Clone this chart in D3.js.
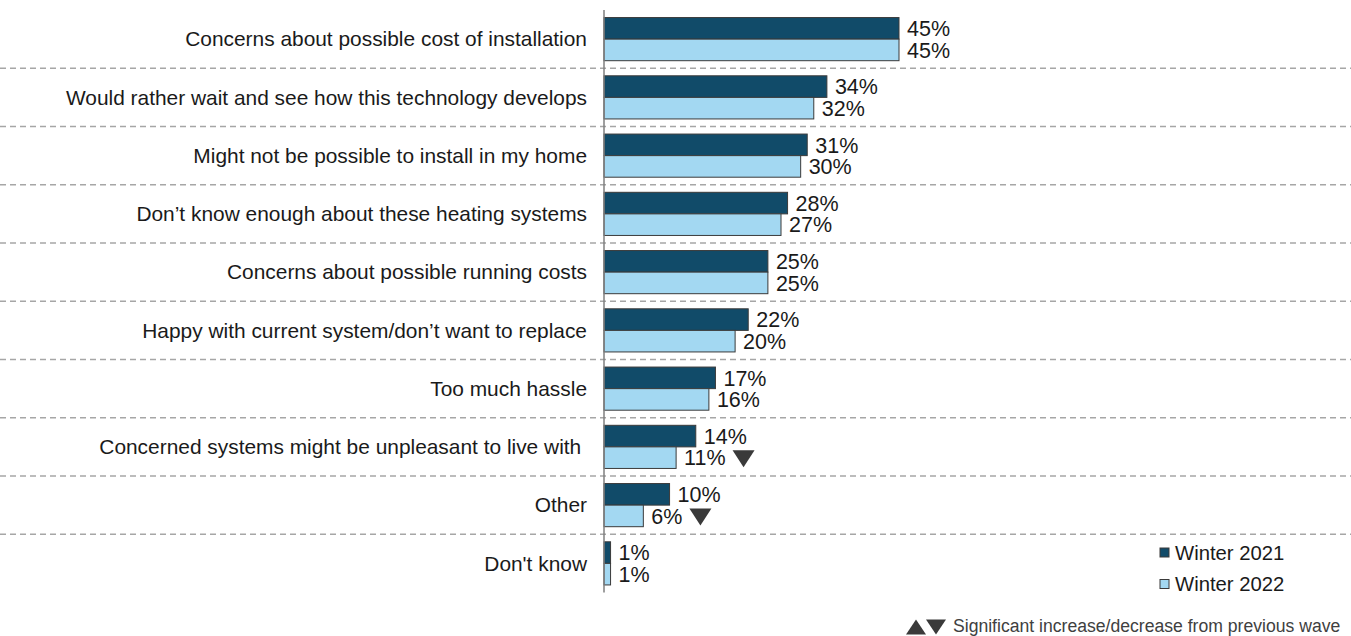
<!DOCTYPE html>
<html>
<head>
<meta charset="utf-8">
<script src="https://cdn.jsdelivr.net/npm/d3@7"></script>
<style>
  html, body { margin: 0; padding: 0; background: #ffffff; }
  svg { display: block; font-family: "Liberation Sans", Arial, sans-serif; }
</style>
</head>
<body>
<svg id="chart" width="1351" height="636"></svg>
<script>
// Reasons for not considering a low-carbon heating system
const categories = [
  "Concerns about possible cost of installation",
  "Would rather wait and see how this technology develops",
  "Might not be possible to install in my home",
  "Don\u2019t know enough about these heating systems",
  "Concerns about possible running costs",
  "Happy with current system/don\u2019t want to replace",
  "Too much hassle",
  "Concerned systems might be unpleasant to live with\u00a0",
  "Other",
  "Don't know"
];
const seriesNames = ["Winter 2021", "Winter 2022"];
const winter2021 = [45, 34, 31, 28, 25, 22, 17, 14, 10, 1];
const winter2022 = [45, 32, 30, 27, 25, 20, 16, 11, 6, 1];
// significant decrease vs previous wave, flagged on the Winter 2022 values
const decrease2022 = [false, false, false, false, false, false, false, true, true, false];
const footnote = "Significant increase/decrease from previous wave";

const colors = { "Winter 2021": "#114b69", "Winter 2022": "#a3d8f2" };
const series = { "Winter 2021": winter2021, "Winter 2022": winter2022 };

const svg = d3.select("#chart");
const axisX = 604;
const plotTop = 10, plotBottom = 592.5;

const x = d3.scaleLinear().domain([0, 45]).range([axisX, axisX + 295]);
const y = d3.scaleBand().domain(categories).range([plotTop, plotBottom]).padding(0);
const sub = d3.scaleBand().domain(seriesNames).range([0, y.bandwidth()])
  .paddingInner(0).paddingOuter(0.35);

// dashed row separators
svg.append("g")
  .selectAll("line")
  .data(categories.slice(1))
  .join("line")
  .attr("x1", 0).attr("x2", 1351)
  .attr("y1", d => y(d)).attr("y2", d => y(d))
  .attr("stroke", "#a6a6a6")
  .attr("stroke-width", 1.3)
  .attr("stroke-dasharray", "6,4");

// category labels
svg.append("g")
  .selectAll("text")
  .data(categories)
  .join("text")
  .attr("x", 587)
  .attr("y", d => y(d) + y.bandwidth() / 2)
  .attr("dy", "0.35em")
  .attr("text-anchor", "end")
  .style("white-space", "pre")
  .attr("font-size", "20.9px")
  .attr("fill", "#1a1a1a")
  .text(d => d);

// bars and value labels
const rows = categories.map((c, i) => ({ cat: c, i }));
const groups = svg.append("g").selectAll("g")
  .data(rows).join("g")
  .attr("transform", d => `translate(0,${y(d.cat)})`);

seriesNames.forEach(name => {
  const vals = series[name];
  groups.append("rect")
    .attr("x", x(0))
    .attr("y", sub(name))
    .attr("width", d => x(vals[d.i]) - x(0))
    .attr("height", sub.bandwidth())
    .attr("fill", colors[name])
    .attr("stroke", "#3a3a3a")
    .attr("stroke-width", 1);

  groups.append("text")
    .attr("class", "val-" + name.replace(/\s/g, ""))
    .attr("x", d => x(vals[d.i]) + 8)
    .attr("y", sub(name) + sub.bandwidth() / 2)
    .attr("dy", "0.36em")
    .attr("font-size", "21.5px")
    .attr("fill", "#1a1a1a")
    .text(d => vals[d.i] + "%");
});

// decrease markers after the Winter 2022 labels
const tri = (cx, cy, w, h, down) => down
  ? `M${cx - w / 2},${cy - h / 2}L${cx + w / 2},${cy - h / 2}L${cx},${cy + h / 2}Z`
  : `M${cx - w / 2},${cy + h / 2}L${cx + w / 2},${cy + h / 2}L${cx},${cy - h / 2}Z`;

groups.filter(d => decrease2022[d.i]).each(function (d) {
  const g = d3.select(this);
  const lbl = g.select("text.val-Winter2022").node();
  const end = lbl.getComputedTextLength() + (+lbl.getAttribute("x"));
  const cy = sub("Winter 2022") + sub.bandwidth() / 2;
  g.append("path")
    .attr("d", tri(end + 18, cy + 1, 22, 17, true))
    .attr("fill", "#3a3a3a");
});

// axis line
svg.append("line")
  .attr("x1", axisX).attr("x2", axisX)
  .attr("y1", plotTop).attr("y2", plotBottom)
  .attr("stroke", "#7f7f7f")
  .attr("stroke-width", 1.5);

// legend
const legend = svg.append("g").selectAll("g")
  .data(seriesNames).join("g")
  .attr("transform", (d, i) => `translate(1160,${548 + i * 31.5})`);
legend.append("rect")
  .attr("width", 9).attr("height", 9)
  .attr("fill", d => colors[d])
  .attr("stroke", "#3a3a3a").attr("stroke-width", 1);
legend.append("text")
  .attr("x", 15).attr("y", 4.5).attr("dy", "0.36em")
  .attr("font-size", "20.3px")
  .attr("fill", "#1a1a1a")
  .text(d => d);

// footnote
const fn = svg.append("g").attr("transform", "translate(0,625)");
fn.append("path").attr("d", tri(916, 2, 20, 15, false)).attr("fill", "#3a3a3a");
fn.append("path").attr("d", tri(936, 2, 20, 15, true)).attr("fill", "#3a3a3a");
fn.append("text")
  .attr("x", 953).attr("y", 1).attr("dy", "0.36em")
  .attr("font-size", "17.6px")
  .attr("fill", "#404040")
  .text(footnote);
</script>
</body>
</html>
